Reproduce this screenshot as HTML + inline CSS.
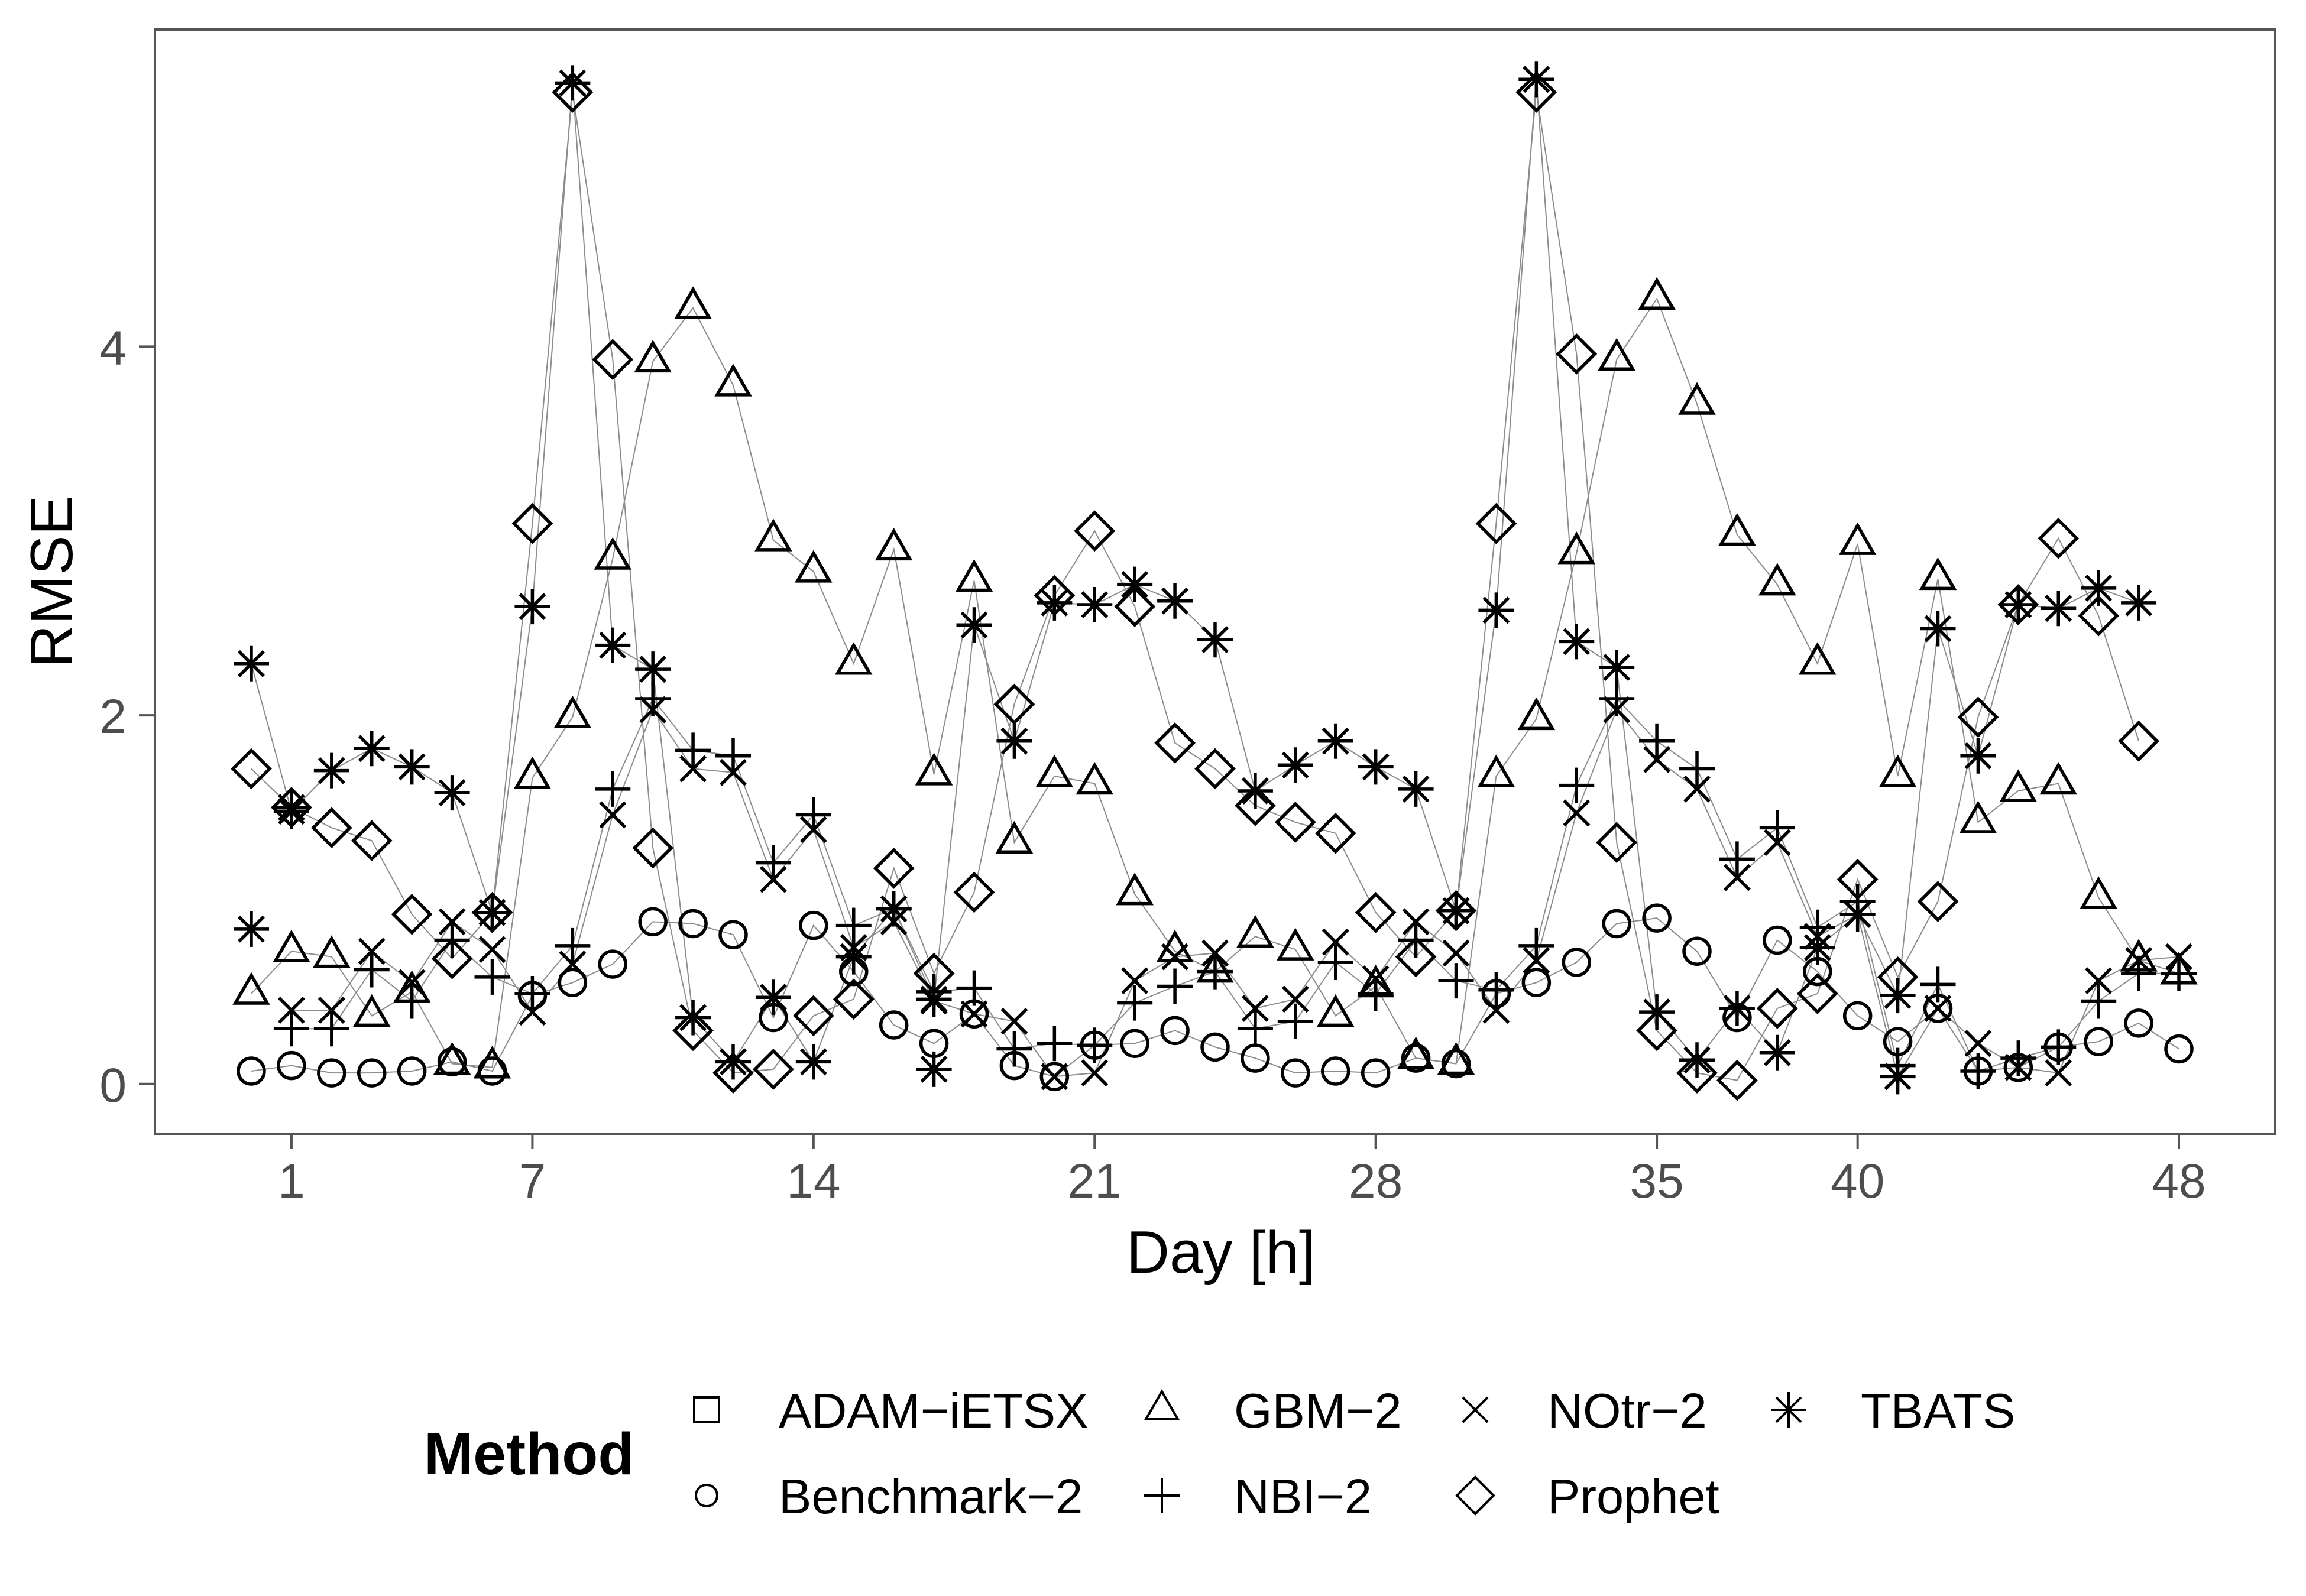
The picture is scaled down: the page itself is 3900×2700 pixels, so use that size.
<!DOCTYPE html>
<html><head><meta charset="utf-8"><style>
html,body{margin:0;padding:0;background:#fff;}
svg{display:block;font-family:"Liberation Sans",sans-serif;}
</style></head><body>
<svg id="chart" width="3900" height="2700" viewBox="0 0 3900 2700" xmlns="http://www.w3.org/2000/svg">
<rect x="0" y="0" width="3900" height="2700" fill="#fff"/>
<g id="lines"></g>
<g id="marks"></g>
<rect x="262" y="50" width="3586" height="1868" fill="none" stroke="#555" stroke-width="4"/>
<g id="axes"></g>
<text x="122" y="984" font-size="101" text-anchor="middle" transform="rotate(-90 122 984)" fill="#000">RMSE</text>
<text x="2065" y="2153" font-size="101" text-anchor="middle" fill="#000">Day [h]</text>
<g id="legend">
<text x="717" y="2494" font-size="100" font-weight="bold" fill="#000">Method</text>
</g>
</svg>
<script>
const xVals = [0,1,2,3,4,5,6,7,8,9,10,11,12,13,14,15,16,17,18,19,20,21,22,23,24,25,26,27,28,29,30,31,32,33,34,35,36,37,38,39,40,41,42,43,44,45,46,47,48];
const xTicks = [1,7,14,21,28,35,40,48];
const yTicks = [0,2,4];
const benchmark = [0.07,0.1,0.06,0.06,0.07,0.12,0.07,0.48,0.55,0.65,0.88,0.87,0.81,0.36,0.86,0.61,0.32,0.22,0.38,0.1,0.04,0.21,0.22,0.29,0.2,0.14,0.06,0.07,0.06,0.14,0.11,0.49,0.55,0.66,0.87,0.9,0.72,0.36,0.78,0.61,0.37,0.23,0.41,0.07,0.09,0.2,0.23,0.33,0.19];
const gbm = [0.49,0.72,0.69,0.37,0.5,0.11,0.09,1.66,1.99,2.85,3.92,4.21,3.79,2.95,2.78,2.28,2.9,1.68,2.73,1.31,1.67,1.63,1.03,0.72,0.61,0.8,0.73,0.37,0.53,0.14,0.11,1.67,1.98,2.88,3.93,4.26,3.69,2.98,2.71,2.28,2.93,1.67,2.74,1.42,1.59,1.63,1.01,0.67,0.6];
const nbi = [null,0.3,0.3,0.62,0.45,0.78,0.58,0.49,0.75,1.6,2.09,1.81,1.78,1.2,1.46,0.86,0.95,0.5,0.52,0.19,0.22,0.21,0.44,0.53,0.61,0.3,0.34,0.66,0.49,0.78,0.56,0.51,0.75,1.62,2.09,1.86,1.71,1.22,1.39,0.85,0.99,0.1,0.54,0.07,0.14,0.2,0.45,0.6,0.6];
const notr = [null,0.4,0.4,0.72,0.55,0.88,0.73,0.39,0.65,1.46,2.03,1.71,1.69,1.11,1.38,0.74,0.88,0.45,0.38,0.34,0.04,0.06,0.56,0.69,0.71,0.41,0.46,0.77,0.57,0.88,0.71,0.4,0.67,1.47,2.03,1.76,1.6,1.12,1.31,0.8,0.92,0.04,0.41,0.22,0.09,0.06,0.56,0.67,0.69];
const prophet = [1.71,1.5,1.39,1.32,0.92,0.68,0.93,3.04,5.38,3.93,1.28,0.29,0.06,0.08,0.37,0.46,1.17,0.6,1.04,2.06,2.65,3.0,2.59,1.85,1.71,1.51,1.42,1.36,0.93,0.69,0.94,3.04,5.38,3.96,1.31,0.29,0.06,0.02,0.41,0.49,1.11,0.58,0.99,1.99,2.6,2.96,2.54,1.86,null];
const tbats = [2.28,1.48,1.7,1.82,1.72,1.58,0.93,2.59,5.43,2.38,2.25,0.36,0.12,0.47,0.12,0.69,0.95,0.46,2.49,1.86,2.61,2.6,2.71,2.62,2.41,1.59,1.73,1.86,1.72,1.6,0.94,2.57,5.45,2.4,2.26,0.39,0.13,0.41,0.17,0.74,0.92,0.48,2.47,1.78,2.6,2.58,2.69,2.61,null];
const tbatsExtra = [0.84,null,null,null,null,null,null,null,null,null,null,null,null,null,null,null,null,0.08,null,null,null,null,null,null,null,null,null,null,null,null,null,null,null,null,null,null,null,null,null,null,null,0.04,null,null,null,null,null,null,null];
const nbiExtra = [null,1.5,null,null,null,null,0.93,null,null,null,null,null,null,null,null,null,null,null,null,null,null,null,null,null,null,null,null,null,null,null,0.94,null,null,null,null,null,null,null,null,null,null,null,null,null,null,null,null,null,null];
const notrExtra = [null,1.5,null,null,null,null,0.93,null,null,null,null,null,null,null,null,null,null,null,null,null,null,null,null,null,null,null,null,null,null,null,0.94,null,null,null,null,null,null,null,null,null,null,null,null,null,null,null,null,null,null];

const L=262,R=3848,T=50,B=1918;
const X0=-2.4,X1=50.4,Y0=-0.27,Y1=5.72;
function sx(v){return L+(v-X0)/(X1-X0)*(R-L);}
function sy(v){return B-(v-Y0)/(Y1-Y0)*(B-T);}
const NS='http://www.w3.org/2000/svg';
function mk(tag,attrs,parent){const e=document.createElementNS(NS,tag);for(const k in attrs)e.setAttribute(k,attrs[k]);parent.appendChild(e);return e;}

function shapeD(s,x,y){
  if(s==='tri')return `M${x},${y-31}L${x+27},${y+16}L${x-27},${y+16}Z`;
  if(s==='plus')return `M${x-30},${y}H${x+30}M${x},${y-30}V${y+30}`;
  if(s==='x')return `M${x-21},${y-21}L${x+21},${y+21}M${x-21},${y+21}L${x+21},${y-21}`;
  if(s==='ast')return `M${x-30},${y}H${x+30}M${x},${y-30}V${y+30}M${x-21},${y-21}L${x+21},${y+21}M${x-21},${y+21}L${x+21},${y-21}`;
  if(s==='dia')return `M${x},${y-31}L${x+31},${y}L${x},${y+31}L${x-31},${y}Z`;
  if(s==='sq')return `M${x-21},${y-21}H${x+21}V${y+21}H${x-21}Z`;
  return '';
}
function drawMarker(s,x,y,parent){
  let e;
  if(s==='circ'){e=mk('ellipse',{cx:x,cy:y,rx:22,ry:22,fill:'none',stroke:'#000','stroke-width':5.5},parent);}
  else{e=mk('path',{d:shapeD(s,x,y),fill:'none',stroke:'#000','stroke-width':5.5,'stroke-linejoin':'miter'},parent);}
  return e;
}
const linesG=document.getElementById('lines'),marksG=document.getElementById('marks'),axesG=document.getElementById('axes'),legG=document.getElementById('legend');
const series=[['benchmark',benchmark,'circ'],['gbm',gbm,'tri'],['nbi',nbi,'plus'],['notr',notr,'x'],['prophet',prophet,'dia'],['tbats',tbats,'ast'],['tbats-extra',tbatsExtra,'ast'],['nbi-extra',nbiExtra,'plus'],['notr-extra',notrExtra,'x']];
series.forEach(([name,vals,shape])=>{
  let d='',pen=false;
  vals.forEach((v,i)=>{if(v===null){pen=false;return;}d+=(pen?'L':'M')+sx(xVals[i]).toFixed(1)+','+sy(v).toFixed(1);pen=true;});
  if(!name.endsWith('extra')){
    const p=mk('path',{d:d,fill:'none',stroke:'#8c8c8c','stroke-width':2},linesG);
    
    
  }
  vals.forEach((v,i)=>{if(v===null)return;
    const m=drawMarker(shape,sx(xVals[i]),sy(v),marksG);
    
    
  });
});
xTicks.forEach(t=>{
  const x=sx(t);
  const l=mk('line',{x1:x,y1:B,x2:x,y2:B+25,stroke:'#555','stroke-width':4},axesG);
  
  
  const tx=mk('text',{x:x,y:B+108,'font-size':82,'text-anchor':'middle',fill:'#4d4d4d'},axesG);
  tx.textContent=t;
  
  
});
yTicks.forEach(t=>{
  const y=sy(t);
  const l=mk('line',{x1:L-27,y1:y,x2:L,y2:y,stroke:'#555','stroke-width':4},axesG);
  
  
  const tx=mk('text',{x:L-48,y:y+30,'font-size':82,'text-anchor':'end',fill:'#4d4d4d'},axesG);
  tx.textContent=t;
  
  
});
const legendItems=[['ADAM\u2212iETSX','sq',1195,2385],['GBM\u22122','tri',1965,2385],['NOtr\u22122','x',2495,2385],['TBATS','ast',3025,2385],['Benchmark\u22122','circ',1195,2530],['NBI\u22122','plus',1965,2530],['Prophet','dia',2495,2530]];
legendItems.forEach(([lab,s,x,y])=>{
  const g=mk('g',{},legG);
  
  
  const m=drawMarker(s,x,y,g);
  m.setAttribute('stroke-width',4);
  if(s==='circ'){m.setAttribute('rx',18);m.setAttribute('ry',18);}
  
  
  const t=mk('text',{x:x+122,y:y+30,'font-size':83,fill:'#000'},g);
  t.textContent=lab;
  
  
});
</script>
</body></html>
